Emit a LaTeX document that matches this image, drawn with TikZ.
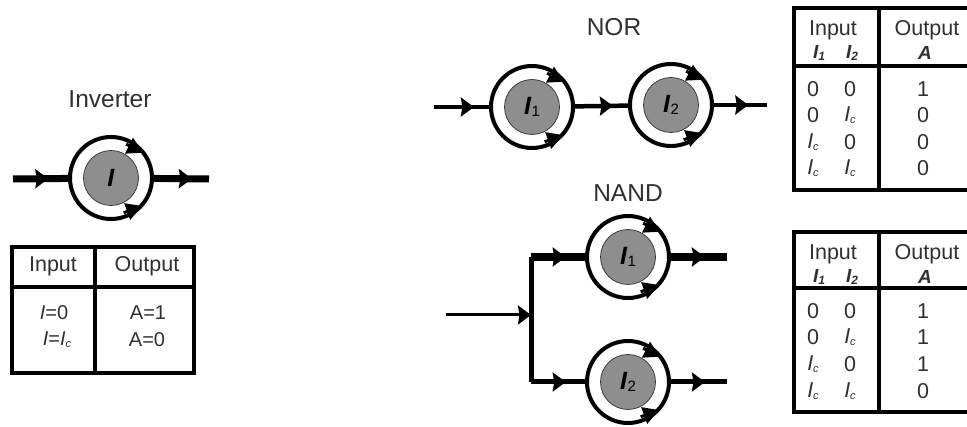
\documentclass[tikz,border=0pt]{standalone}
\usepackage{fontspec}
\setmainfont{Liberation Sans}
\usetikzlibrary{arrows.meta,decorations.markings}
\definecolor{ink}{HTML}{303030}
\definecolor{core}{HTML}{8E8E8E}
\newcommand{\cur}[1]{\textbf{\textit{I}}\raisebox{-2pt}{\fontsize{15}{15}\selectfont #1}}
\newcommand{\Ic}{\textit{I}\raisebox{-2pt}{\fontsize{11}{11}\selectfont\textit{c}}}
\tikzset{
	ring/.style={circle,draw=black,line width=4pt,minimum size=82pt,inner sep=0pt,outer sep=0pt},
	corenode/.style={circle,draw=ink,fill=core,line width=.7pt,minimum size=55pt,inner sep=0pt,font=\fontsize{25}{25}\selectfont,text=black},
	title/.style={font=\fontsize{24.5}{24.5}\selectfont,text=ink,inner sep=0pt},
	cell/.style={font=\fontsize{21.5}{21.5}\selectfont,text=ink,inner sep=0pt},
	smallcell/.style={font=\fontsize{20}{20}\selectfont,text=ink,inner sep=0pt},
	headcell/.style={font=\fontsize{19}{19}\selectfont\bfseries\itshape,text=ink,inner sep=0pt},
	rule/.style={draw=black,line width=3.5pt,line cap=butt,line join=miter},
	wire/.style={draw=black,line width=#1,line cap=butt},
	tipat/.style={postaction={decorate},decoration={markings,mark=at position #1 with {\arrow{Stealth[inset=1.5pt,length=13pt,width=19pt]}}}},
	spin/.style={draw=black,line width=3pt,-{Stealth[inset=0pt,length=16pt,width=17pt]}}
}
\begin{document}
\begin{tikzpicture}[x=1pt,y=1pt,line join=round]
	\useasboundingbox (0,0) rectangle (967,-427);
	\foreach \g/\x/\y/\t in {inv/111/-178/{\textbf{\textit{I}}},nor1/532/-107/{\cur{1}},nor2/671/-105/{\cur{2}},nand1/628/-257/{\cur{1}},nand2/628/-382/{\cur{2}}}{
		\node[ring] (\g) at (\x,\y) {};
		\node[corenode] (core\g) at (\x,\y) {\t};
		\draw[spin] ([shift={(66:37)}]\g.center) -- ([shift={(38:41)}]\g.center);
		\draw[spin] ([shift={(-70:37)}]\g.center) -- ([shift={(-42:42)}]\g.center);
	}
	% titles
	\node[title] (tinv) at (110,-99) {Inverter};
	\node[title] (tnor) at (614,-27) {NOR};
	\node[title] (tnand) at (628,-193) {NAND};
	% inverter wires
	\coordinate (invin) at (13,-179);
	\coordinate (invout) at (209,-179);
	\draw[wire=7pt,tipat=.62] (invin) -- (inv);
	\draw[wire=7pt,tipat=.70] (inv) -- (invout);
	% nor wires
	\coordinate (norin) at (434,-107);
	\coordinate (norout) at (767,-105);
	\draw[wire=4.5pt,tipat=.70] (norin) -- (nor1);
	\draw[wire=4.5pt,tipat=.70] (nor1) -- (nor2);
	\draw[wire=4.5pt,tipat=.66] (nor2) -- (norout);
	% nand wires
	\coordinate (nandin) at (446,-315);
	\coordinate (split) at (531,-315);
	\coordinate (splita) at (531,-257);
	\coordinate (splitb) at (531,-382);
	\coordinate (nandouta) at (727,-257);
	\coordinate (nandoutb) at (727,-382);
	\draw[wire=3pt,tipat=1] (nandin) -- (split);
	\draw[wire=5pt] (splita) -- (splitb);
	\draw[wire=8pt,tipat=.62] (splita) -- (nand1);
	\draw[wire=5pt,tipat=.62] (splitb) -- (nand2);
	\draw[wire=8pt,tipat=.62] (nand1) -- (nandouta);
	\draw[wire=5pt,tipat=.62] (nand2) -- (nandoutb);
	% inverter table
	\draw[rule] (12,-247) rectangle (194,-373);
	\draw[rule] (12,-287) -- (194,-287);
	\draw[rule] (95,-247) -- (95,-373);
	\node[cell] (invinput) at (53,-266) {Input};
	\node[cell] (invoutput) at (147,-266) {Output};
	\node[smallcell] (inva) at (54,-313) {\textit{I}=0};
	\node[smallcell] (invb) at (57,-340) {\textit{I}=\Ic};
	\node[smallcell] (invc) at (148,-313) {A=1};
	\node[smallcell] (invd) at (147,-340) {A=0};
	% nor and nand tables
	\foreach \n/\top/\mid/\bot in {nor/-8/-66/-190,nand/-232/-288/-412}{
		\draw[rule] (967,\top) -- (794,\top) -- (794,\bot) -- (967,\bot);
		\draw[rule] (794,\mid) -- (967,\mid);
		\draw[rule] (879,\top) -- (879,\bot);
		\node[cell] (\n input) at (833,\top-22) {Input};
		\node[cell] (\n output) at (927,\top-22) {Output};
		\node[headcell] (\n ia) at (819,\top-45) {\textit{I}\raisebox{-2pt}{\fontsize{12}{12}\selectfont 1}};
		\node[headcell] (\n ib) at (852,\top-45) {\textit{I}\raisebox{-2pt}{\fontsize{12}{12}\selectfont 2}};
		\node[headcell] (\n a) at (925,\top-45) {A};
	}
	\foreach \n/\r/\y/\p/\q/\v in {nor/1/-89/0/0/1,nor/2/-115/0/\Ic/0,nor/3/-142/\Ic/0/0,nor/4/-168/\Ic/\Ic/0,nand/1/-311/0/0/1,nand/2/-337/0/\Ic/1,nand/3/-364/\Ic/0/1,nand/4/-391/\Ic/\Ic/0}{
		\node[cell] (\n p\r) at (813,\y) {\p};
		\node[cell] (\n q\r) at (850,\y) {\q};
		\node[cell] (\n v\r) at (923,\y) {\v};
	}
\end{tikzpicture}
\end{document}
